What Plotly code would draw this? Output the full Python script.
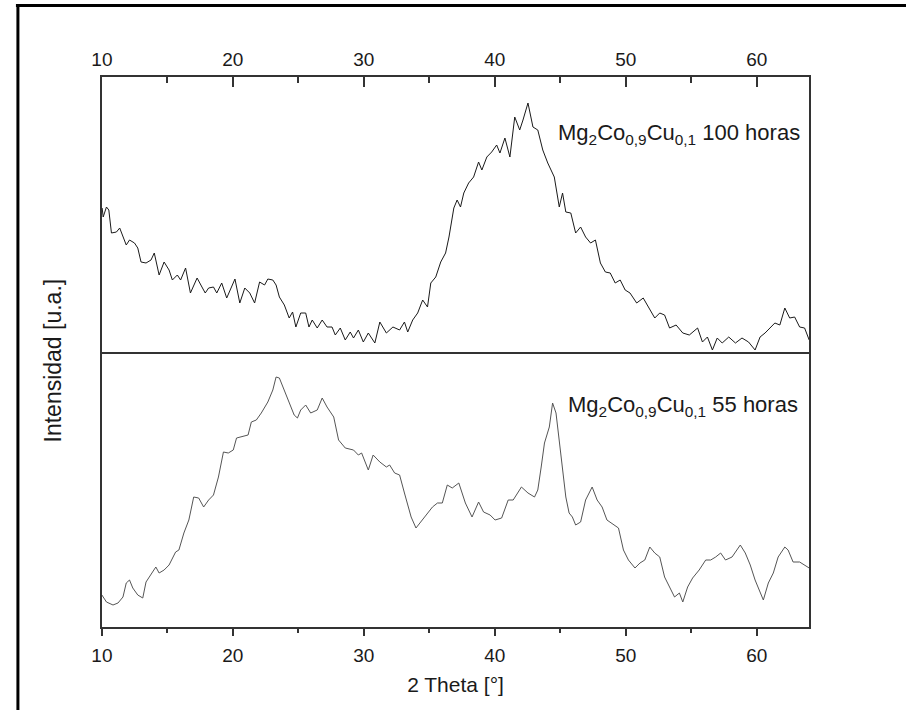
import plotly.graph_objects as go

# ---- data (2 Theta in degrees, intensity in arbitrary units) ----
theta_100 = [10.02, 10.10, 10.35, 10.53, 10.73, 11.11, 11.36, 11.61, 11.86, 12.11, 12.49, 12.74,
             12.99, 13.37, 13.75, 14.00, 14.37, 14.75, 15.13, 15.38, 15.76, 16.01, 16.39, 16.76,
             17.27, 17.64, 17.89, 18.15, 18.52, 18.77, 19.15, 19.53, 19.90, 20.16, 20.53, 20.91,
             21.29, 21.66, 22.04, 22.42, 22.67, 23.05, 23.30, 23.55, 23.93, 24.30, 24.56, 24.81,
             25.18, 25.56, 25.81, 26.06, 26.44, 26.82, 27.19, 27.57, 27.82, 28.20, 28.58, 28.96,
             29.21, 29.58, 29.96, 30.34, 30.84, 31.22, 31.72, 32.22, 32.73, 33.10, 33.35, 33.73,
             34.11, 34.49, 34.86, 35.11, 35.49, 35.87, 36.24, 36.50, 36.87, 37.12, 37.38, 37.63,
             38.00, 38.38, 38.76, 39.01, 39.39, 39.76, 40.14, 40.39, 40.77, 41.15, 41.52, 41.90,
             42.15, 42.53, 42.91, 43.28, 43.66, 44.04, 44.54, 44.92, 45.17, 45.42, 45.80, 46.17,
             46.55, 46.93, 47.31, 47.68, 48.06, 48.44, 48.81, 49.19, 49.57, 49.95, 50.32, 50.83,
             51.33, 51.83, 52.21, 52.59, 52.96, 53.34, 53.84, 54.35, 54.85, 55.48, 55.85, 56.23,
             56.61, 56.98, 57.36, 57.86, 58.37, 58.87, 59.37, 59.87, 60.25, 60.63, 61.01, 61.38,
             61.76, 62.14, 62.51, 62.89, 63.27, 63.65, 64.00]
int_100 = [144, 135, 145, 142, 119, 120, 124, 115, 107, 112, 109, 104,
           90, 89, 92, 99, 77, 90, 82, 72, 77, 72, 84, 59,
           74, 65, 59, 64, 65, 59, 69, 54, 65, 73, 49, 64,
           59, 49, 70, 67, 73, 72, 67, 55, 47, 34, 40, 25,
           39, 39, 25, 32, 24, 32, 25, 25, 17, 24, 12, 20,
           14, 22, 10, 19, 9, 30, 19, 25, 22, 30, 20, 32,
           39, 52, 45, 69, 75, 90, 99, 115, 144, 152, 145, 159,
           169, 175, 190, 182, 195, 200, 207, 199, 214, 195, 235, 222,
           232, 249, 225, 222, 202, 189, 175, 145, 159, 140, 139, 119,
           125, 115, 109, 112, 89, 80, 79, 69, 72, 62, 59, 49,
           54, 42, 34, 39, 37, 24, 27, 19, 17, 24, 10, 15,
           2, 14, 9, 15, 9, 14, 10, 2, 15, 19, 24, 29,
           27, 44, 34, 35, 25, 24, 12]

theta_55 = [10.00, 10.35, 10.85, 11.23, 11.61, 11.86, 12.11, 12.36, 12.74, 13.12, 13.37, 13.75,
            14.12, 14.37, 14.75, 15.13, 15.63, 15.88, 16.26, 16.64, 17.01, 17.39, 17.77, 18.15,
            18.52, 18.90, 19.28, 19.65, 20.03, 20.28, 20.66, 21.16, 21.41, 21.79, 22.17, 22.67,
            23.05, 23.30, 23.55, 23.93, 24.30, 24.68, 24.93, 25.18, 25.56, 25.94, 26.44, 26.82,
            27.19, 27.70, 28.07, 28.58, 29.21, 29.58, 29.83, 30.34, 30.71, 31.22, 31.72, 31.97,
            32.35, 32.73, 33.10, 33.61, 33.98, 34.36, 34.86, 35.24, 35.62, 35.99, 36.37, 36.75,
            37.25, 37.75, 38.26, 38.76, 39.14, 39.64, 40.02, 40.52, 41.02, 41.40, 42.03, 42.53,
            43.03, 43.28, 43.54, 43.79, 44.16, 44.41, 44.67, 44.92, 45.17, 45.42, 45.67, 45.92,
            46.17, 46.55, 46.93, 47.43, 47.81, 48.19, 48.56, 49.07, 49.44, 49.82, 50.20, 50.70,
            51.08, 51.45, 51.83, 52.21, 52.59, 52.96, 53.34, 53.72, 54.09, 54.35, 54.72, 55.10,
            55.60, 56.10, 56.48, 56.86, 57.24, 57.61, 58.11, 58.74, 59.12, 59.50, 59.87, 60.25,
            60.50, 60.88, 61.26, 61.63, 62.14, 62.39, 62.77, 63.27, 64.00]
int_55 = [32, 25, 22, 24, 30, 44, 47, 39, 32, 29, 45, 52,
          60, 54, 57, 62, 75, 77, 94, 107, 130, 129, 120, 127,
          132, 150, 175, 174, 177, 189, 190, 192, 205, 207, 214, 225,
          237, 250, 249, 237, 224, 212, 209, 217, 222, 214, 217, 229,
          220, 210, 187, 179, 177, 172, 174, 157, 172, 165, 160, 162,
          154, 152, 134, 110, 99, 105, 114, 120, 124, 124, 142, 139,
          144, 124, 110, 125, 115, 112, 107, 109, 127, 127, 140, 134,
          130, 137, 160, 184, 200, 224, 214, 187, 160, 130, 114, 110,
          102, 105, 127, 140, 127, 120, 107, 102, 99, 77, 67, 59,
          64, 67, 80, 74, 70, 50, 40, 30, 34, 25, 40, 49,
          57, 67, 67, 70, 74, 67, 70, 82, 74, 62, 47, 34,
          27, 44, 54, 70, 80, 77, 65, 65, 59]

x_ticks = [10, 20, 30, 40, 50, 60]
x_minor = [15, 25, 35, 45, 55]
x_range = [10, 64]

W, H = 906, 710
PL, PR = 92, 808          # plot left / right (px)
PT, PM, PB = 77, 352, 627  # top / divider / bottom (px)

AX = "#333333"
TXT = "#1a1a1a"
FONT = "Arial, Liberation Sans, sans-serif"

fig = go.Figure()
fig.add_trace(go.Scatter(x=theta_55, y=int_55, xaxis="x", yaxis="y", mode="lines",
                         line=dict(color="#555555", width=1), showlegend=False))
fig.add_trace(go.Scatter(x=theta_100, y=int_100, xaxis="x2", yaxis="y2", mode="lines",
                         line=dict(color="#1a1a1a", width=1), showlegend=False))

common_x = dict(domain=[PL / W, PR / W], range=x_range, showline=True, linecolor=AX,
                linewidth=1.5, showgrid=False, zeroline=False,
                tickmode="array", tickvals=x_ticks, tickcolor=AX, tickwidth=1.5,
                tickfont=dict(family=FONT, size=19, color=TXT))

fig.update_layout(
    width=W, height=H, margin=dict(l=0, r=0, t=0, b=0),
    paper_bgcolor="white", plot_bgcolor="white",
    xaxis=dict(**common_x, anchor="y", side="bottom", mirror=False, ticks="outside", ticklen=7,
               minor=dict(tickmode="array", tickvals=x_minor, ticks="outside",
                          ticklen=4, tickwidth=1.5, tickcolor=AX),
               ticklabelstandoff=3,
               title=dict(text="2 Theta [°]", font=dict(family=FONT, size=21, color=TXT),
                          standoff=13)),
    xaxis2=dict(**common_x, anchor="y2", side="top", mirror=True, ticks="inside", ticklen=10,
                minor=dict(tickmode="array", tickvals=x_minor, ticks="inside",
                           ticklen=6, tickwidth=1.5, tickcolor=AX),
                ticklabelstandoff=2),
    yaxis=dict(domain=[(H - PB) / H, (H - PM) / H], range=[0, PB - PM], showticklabels=False,
               ticks="", showline=True, linecolor=AX, linewidth=1.5, mirror=True,
               showgrid=False, zeroline=False),
    yaxis2=dict(domain=[(H - PM) / H, (H - PT) / H], range=[0, PM - PT], showticklabels=False,
                ticks="", showline=True, linecolor=AX, linewidth=1.5, mirror=True,
                showgrid=False, zeroline=False),
    annotations=[
        dict(text="Mg<sub>2</sub>Co<sub>0,9</sub>Cu<sub>0,1</sub> 100 horas", xref="paper",
             yref="paper", x=552 / W, y=(H - 134) / H, xanchor="left", yanchor="middle",
             showarrow=False, font=dict(family=FONT, size=22, color=TXT)),
        dict(text="Mg<sub>2</sub>Co<sub>0,9</sub>Cu<sub>0,1</sub> 55 horas", xref="paper",
             yref="paper", x=562 / W, y=(H - 406) / H, xanchor="left", yanchor="middle",
             showarrow=False, font=dict(family=FONT, size=22, color=TXT)),
        dict(text="Intensidad [u.a.]", xref="paper", yref="paper", x=43 / W, y=(H - 360) / H,
             xanchor="center", yanchor="middle", textangle=-90, showarrow=False,
             font=dict(family=FONT, size=23, color=TXT)),
    ],
    shapes=[
        dict(type="line", xref="paper", yref="paper", x0=5 / W, x1=1, y0=(H - 5.5) / H,
             y1=(H - 5.5) / H, line=dict(color="black", width=3)),
        dict(type="line", xref="paper", yref="paper", x0=7 / W, x1=7 / W, y0=0,
             y1=(H - 4) / H, line=dict(color="black", width=3)),
    ],
)

fig.write_html("out.html", post_script="document.body.style.margin='0';")
